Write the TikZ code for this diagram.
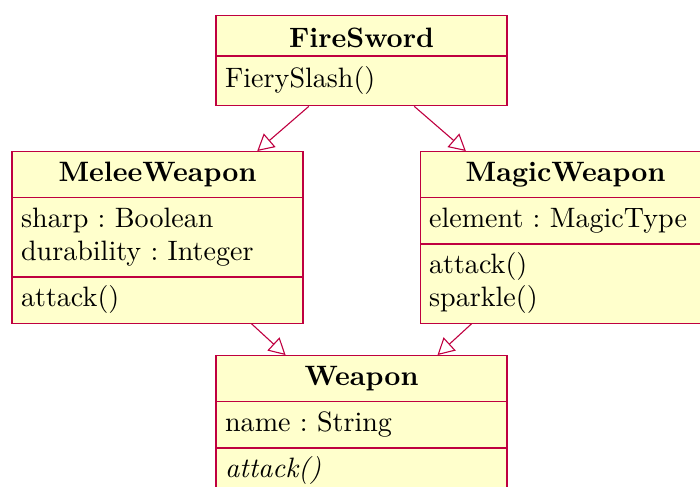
\documentclass[tikz,border=0pt]{standalone}
\usepackage{tikz}
\usepackage{xcolor}
\usetikzlibrary{shapes.multipart, arrows.meta, positioning}
\definecolor{umlline}{HTML}{BF0040}
\definecolor{umlfill}{HTML}{FFFFCC}
\newcommand{\umltitle}[1]{\makebox[\linewidth]{\strut\textbf{#1}}}

\begin{document}
\begin{tikzpicture}[
  umlclass/.style={rectangle split, rectangle split parts=3, draw=umlline, fill=umlfill, line width=0.4pt, text width=99.2pt, inner xsep=3.3pt, inner ysep=2.2pt, align=left, anchor=north, font=\fontsize{10.2}{12}\selectfont},
  inherit/.style={-{Triangle[open, length=6pt, width=6.5pt]}, draw=umlline, line width=0.4pt}
]
  \useasboundingbox (0,0) rectangle (8.945,-6.211);

  % Classes
  \node[umlclass, rectangle split parts=2, inner ysep=2.85pt] (firesword) at (4.620,-0.192) {\makebox[\linewidth]{\rule{0pt}{8.5pt}\textbf{FireSword}}
    \nodepart{two}\strut FierySlash()};
  \node[umlclass] (melee) at (2.013,-1.930) {\umltitle{MeleeWeapon}
    \nodepart{two}\strut sharp~:~Boolean\\ durability~:~Integer\strut
    \nodepart{three}\strut attack()};
  \node[umlclass] (magic) at (7.227,-1.930) {\umltitle{MagicWeapon}
    \nodepart{two}\strut element~:~MagicType
    \nodepart{three}\strut attack()\\ sparkle()\strut};
  \node[umlclass] (weapon) at (4.620,-4.537) {\umltitle{Weapon}
    \nodepart{two}\strut name~:~String
    \nodepart{three}\strut\textit{attack()}};

  % Inheritance
  \draw[inherit] (firesword) -- (melee);
  \draw[inherit] (firesword) -- (magic);
  \draw[inherit] (melee) -- (weapon);
  \draw[inherit] (magic) -- (weapon);
\end{tikzpicture}
\end{document}
